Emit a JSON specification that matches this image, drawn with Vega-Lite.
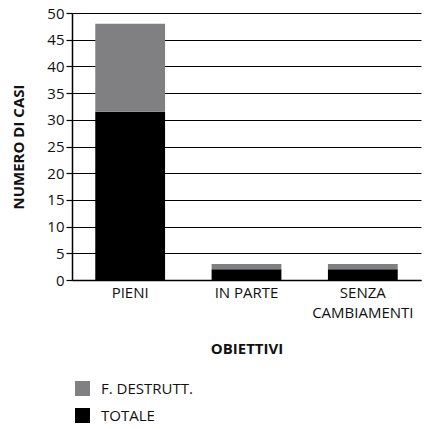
{
  "$schema": "https://vega.github.io/schema/vega-lite/v6.json",
  "width": 349,
  "height": 267,
  "autosize": {"type": "none"},
  "padding": {"left": 72, "top": 13, "right": 5, "bottom": 149},
  "background": "white",
  "data": {
    "values": [
      {"obiettivi": "PIENI", "serie": "TOTALE", "casi": 31.5, "ord": 1},
      {"obiettivi": "PIENI", "serie": "F. DESTRUTT.", "casi": 16.5, "ord": 2},
      {"obiettivi": "IN PARTE", "serie": "TOTALE", "casi": 2, "ord": 1},
      {"obiettivi": "IN PARTE", "serie": "F. DESTRUTT.", "casi": 1, "ord": 2},
      {"obiettivi": "SENZA CAMBIAMENTI", "serie": "TOTALE", "casi": 2, "ord": 1},
      {"obiettivi": "SENZA CAMBIAMENTI", "serie": "F. DESTRUTT.", "casi": 1, "ord": 2}
    ]
  },
  "mark": {"type": "bar"},
  "encoding": {
    "x": {
      "field": "obiettivi",
      "type": "nominal",
      "sort": ["PIENI", "IN PARTE", "SENZA CAMBIAMENTI"],
      "scale": {"paddingInner": 0.4, "paddingOuter": 0.2},
      "axis": {
        "title": "OBIETTIVI",
        "titleFont": "Open Sans",
        "titleFontSize": 15,
        "titleFontWeight": "bold",
        "titleColor": "#111",
        "titlePadding": 21,
        "labelAngle": 0,
        "labelFont": "Open Sans",
        "labelFontSize": 15,
        "labelColor": "#111",
        "labelPadding": 5,
        "labelLineHeight": 20,
        "labelExpr": "datum.label == 'SENZA CAMBIAMENTI' ? ['SENZA', 'CAMBIAMENTI'] : datum.label",
        "ticks": false,
        "domain": true,
        "domainColor": "#000",
        "domainWidth": 1.5
      }
    },
    "y": {
      "field": "casi",
      "type": "quantitative",
      "stack": "zero",
      "scale": {"domain": [0, 50]},
      "axis": {
        "title": "NUMERO DI CASI",
        "titleFont": "Open Sans",
        "titleFontSize": 15,
        "titleFontWeight": "bold",
        "titleColor": "#111",
        "titlePadding": 20,
        "values": [0, 5, 10, 15, 20, 25, 30, 35, 40, 45, 50],
        "labelFont": "Open Sans",
        "labelFontSize": 15,
        "labelColor": "#111",
        "labelPadding": 2,
        "tickSize": 6,
        "tickColor": "#000",
        "tickWidth": 1.2,
        "grid": true,
        "gridColor": "#000",
        "gridWidth": 1,
        "domainColor": "#000",
        "domainWidth": 1.5
      }
    },
    "color": {
      "field": "serie",
      "type": "nominal",
      "scale": {"domain": ["F. DESTRUTT.", "TOTALE"], "range": ["#808083", "#000000"]},
      "legend": {
        "title": null,
        "orient": "none",
        "legendX": 3,
        "legendY": 368,
        "symbolType": "square",
        "symbolSize": 225,
        "symbolStrokeWidth": 0,
        "labelFont": "Open Sans",
        "labelFontSize": 15,
        "labelColor": "#111",
        "labelOffset": 11,
        "rowPadding": 11
      }
    },
    "order": {"field": "ord", "type": "quantitative", "sort": "ascending"}
  },
  "config": {"view": {"stroke": null}}
}
